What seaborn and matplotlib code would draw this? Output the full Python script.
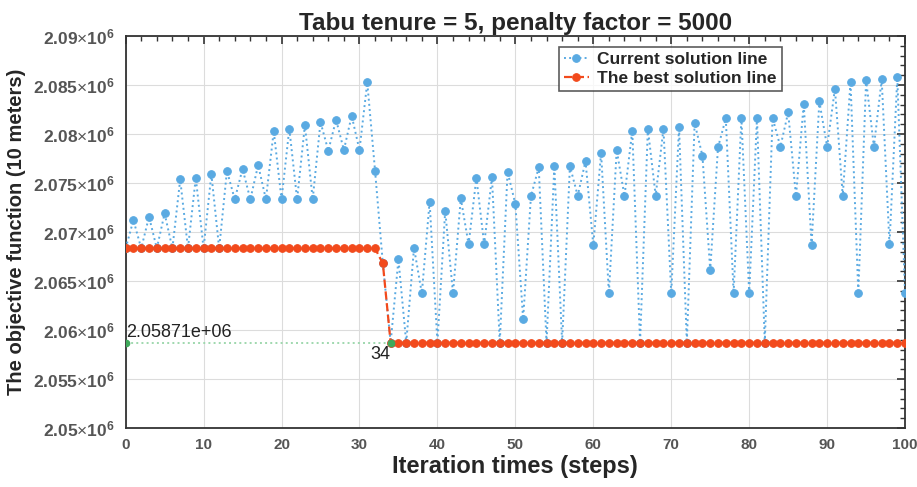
import numpy as np
import pandas as pd
import matplotlib
matplotlib.use("Agg")
import matplotlib.pyplot as plt
import seaborn as sns
from matplotlib.ticker import MultipleLocator, FixedLocator

steps = list(range(0, 101))
current_values = [
    2.06833e6, 2.07122e6, 2.06833e6, 2.07156e6, 2.06833e6, 2.07190e6, 2.06833e6, 2.07537e6, 2.06833e6, 2.07554e6,
    2.06833e6, 2.07592e6, 2.06833e6, 2.07626e6, 2.07333e6, 2.07646e6, 2.07333e6, 2.07684e6, 2.07333e6, 2.08031e6,
    2.07333e6, 2.08055e6, 2.07333e6, 2.08092e6, 2.07333e6, 2.08122e6, 2.07830e6, 2.08146e6, 2.07837e6, 2.08187e6,
    2.07837e6, 2.08527e6, 2.07626e6, 2.06680e6, 2.05871e6, 2.06721e6, 2.05871e6, 2.06840e6, 2.06374e6, 2.07310e6,
    2.05871e6, 2.07218e6, 2.06374e6, 2.07344e6, 2.06874e6, 2.07554e6, 2.06874e6, 2.07561e6, 2.05871e6, 2.07616e6,
    2.07286e6, 2.06112e6, 2.07367e6, 2.07660e6, 2.05871e6, 2.07673e6, 2.05871e6, 2.07673e6, 2.07370e6, 2.07724e6,
    2.06867e6, 2.07810e6, 2.06374e6, 2.07837e6, 2.07367e6, 2.08034e6, 2.05871e6, 2.08054e6, 2.07370e6, 2.08054e6,
    2.06374e6, 2.08075e6, 2.05871e6, 2.08112e6, 2.07779e6, 2.06612e6, 2.07864e6, 2.08160e6, 2.06374e6, 2.08167e6,
    2.06374e6, 2.08167e6, 2.05871e6, 2.08167e6, 2.07870e6, 2.08221e6, 2.07367e6, 2.08310e6, 2.06867e6, 2.08333e6,
    2.07870e6, 2.08463e6, 2.07367e6, 2.08534e6, 2.06374e6, 2.08551e6, 2.07870e6, 2.08558e6, 2.06874e6, 2.08578e6,
    2.06374e6,
]
best_values = [2.06833e6] * 33 + [2.06680e6] + [2.05871e6] * 67
marker_steps = [0, 34]
marker_values = [2.05871e6, 2.05871e6]
y_tick_values = [2.05e6, 2.055e6, 2.06e6, 2.065e6, 2.07e6, 2.075e6, 2.08e6, 2.085e6, 2.09e6]
y_tick_labels = ["2.05", "2.055", "2.06", "2.065", "2.07", "2.075", "2.08", "2.085", "2.09"]

df = pd.DataFrame({"step": steps, "current": current_values, "best": best_values})

sns.set_style("white")
plt.rcParams["font.family"] = ["Liberation Sans", "DejaVu Sans"]
plt.rcParams["mathtext.fontset"] = "custom"
plt.rcParams["mathtext.rm"] = "Liberation Sans"
plt.rcParams["mathtext.bf"] = "Liberation Sans:bold"

fig = plt.figure(figsize=(9.17, 4.87), dpi=100)
ax = fig.add_axes([0.137, 0.121, 0.850, 0.805])

blue = "#5AAAE2"
red = "#F24A1C"
green = "#3FA95B"

sns.lineplot(data=df, x="step", y="current", ax=ax, color=blue, linestyle=":",
             linewidth=1.4, marker="o", markersize=5.5, markeredgecolor=blue,
             label="Current solution line", zorder=3)
sns.lineplot(data=df, x="step", y="best", ax=ax, color=red, linestyle="--",
             linewidth=1.6, marker="o", markersize=5.5, markeredgecolor=red,
             label="The best solution line", zorder=4)
sns.lineplot(x=marker_steps, y=marker_values, ax=ax, color="#9FD8AE", linestyle=":",
             linewidth=1.4, zorder=2, legend=False)
ax.plot(marker_steps, marker_values, "o", color=green, markersize=4.5, zorder=5)

ax.text(0.1, 2.05871e6 + 200, "2.05871e+06", fontsize=13, color="#222222",
        ha="left", va="bottom", zorder=6)
ax.text(34, 2.05871e6 - 350, "34", fontsize=13, color="#222222",
        ha="right", va="top", zorder=6)

ax.set_xlim(0, 100)
ax.set_ylim(2.05e6, 2.09e6)
ax.xaxis.set_major_locator(MultipleLocator(10))
ax.xaxis.set_minor_locator(MultipleLocator(2))
ax.yaxis.set_major_locator(FixedLocator(y_tick_values))
ax.yaxis.set_minor_locator(MultipleLocator(1000))
ax.set_yticklabels([r"$\mathbf{" + t + r"}{\times}\mathbf{10^{6}}$" for t in y_tick_labels])
for lbl in ax.get_xticklabels():
    lbl.set_fontweight("bold")

ax.tick_params(axis="both", which="major", direction="in", length=6, width=1.2,
               top=True, right=True, labelsize=11, labelcolor="#555555", color="#333333")
ax.tick_params(axis="y", which="major", pad=8, labelsize=12.5)
ax.tick_params(axis="x", which="major", pad=7)
ax.tick_params(axis="both", which="minor", direction="in", length=3.5, width=1.0,
               top=True, right=True, color="#333333")
ax.grid(True, which="major", color="#DCDCDC", linewidth=0.8)
for sp in ax.spines.values():
    sp.set_color("#333333")
    sp.set_linewidth(1.3)

ax.set_xlabel("Iteration times (steps)", fontsize=17, fontweight="bold", labelpad=2)
ax.set_ylabel("The objective function (10 meters)", fontsize=14.5, fontweight="bold", labelpad=5)
ax.set_title("Tabu tenure = 5, penalty factor = 5000", fontsize=17.5, fontweight="bold", pad=4)

leg = ax.legend(loc="upper right", bbox_to_anchor=(0.842, 0.972), borderaxespad=0.0,
                frameon=True, fancybox=False, edgecolor="#333333",
                prop={"weight": "bold", "size": 12.5}, handlelength=1.4,
                borderpad=0.3, labelspacing=0.2, handletextpad=0.5)
leg.get_frame().set_linewidth(1.2)

fig.savefig("out.png", dpi=100)
